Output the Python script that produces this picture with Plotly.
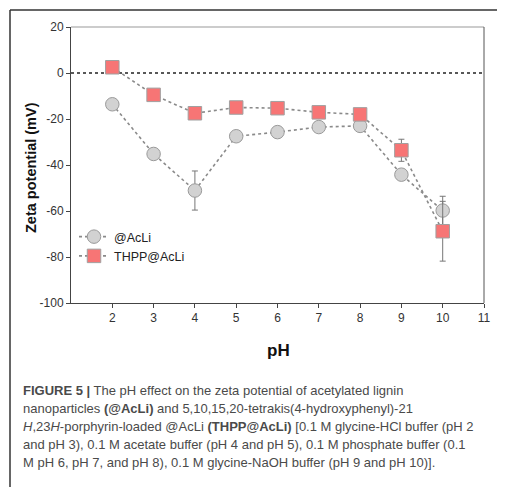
import plotly.graph_objects as go

ph = [2, 3, 4, 5, 6, 7, 8, 9, 10]

acli_zeta = [-13.6, -35.2, -51.1, -27.5, -25.7, -23.5, -23.0, -44.2, -59.8]
acli_err = [1.0, 1.5, 8.5, 1.0, 1.0, 1.0, 1.0, 1.5, 6.2]

thpp_zeta = [2.5, -9.5, -17.5, -15.0, -15.3, -17.1, -18.0, -33.6, -68.8]
thpp_err = [1.0, 1.5, 1.0, 1.0, 1.0, 1.0, 1.0, 4.8, 13.0]

x_ticks = [2, 3, 4, 5, 6, 7, 8, 9, 10, 11]
y_ticks = [-100, -80, -60, -40, -20, 0, 20]
y_ticklabels = ["-100", "-80", "-60", "-40", "-20", "0", "20"]

caption_lines = [
    "<b>FIGURE 5 |</b> The pH effect on the zeta potential of acetylated lignin",
    "nanoparticles <b>(@AcLi)</b> and 5,10,15,20-tetrakis(4-hydroxyphenyl)-21",
    "<i>H</i>,23<i>H</i>-porphyrin-loaded @AcLi <b>(THPP@AcLi)</b> [0.1 M glycine-HCl buffer (pH 2",
    "and pH 3), 0.1 M acetate buffer (pH 4 and pH 5), 0.1 M phosphate buffer (0.1",
    "M pH 6, pH 7, and pH 8), 0.1 M glycine-NaOH buffer (pH 9 and pH 10)].",
]

# the page body has an 8px margin, so work in window pixels and shift
OFF = 8
W, H = 505 - OFF, 487 - OFF
L, R, T, B = 71 - OFF, 484 - OFF, 27 - OFF, 303 - OFF
FONT = "Liberation Sans, Arial"


def px_x(p):
    # window pixel -> paper x
    return (p - OFF - L) / (R - L)


def px_y(p):
    # window pixel -> paper y
    return (B - (p - OFF)) / (B - T)


fig = go.Figure()

fig.add_trace(
    go.Scatter(
        x=ph,
        y=acli_zeta,
        name="@AcLi",
        mode="lines+markers",
        line=dict(color="#8a8a8a", width=1.6, dash="dot"),
        marker=dict(symbol="circle", size=13.5, color="#d2d2d2",
                    line=dict(color="#9a9a9a", width=1)),
        error_y=dict(type="data", array=acli_err, color="#777777",
                     thickness=1, width=3),
    )
)
fig.add_trace(
    go.Scatter(
        x=ph,
        y=thpp_zeta,
        name="THPP@AcLi",
        mode="lines+markers",
        line=dict(color="#8a8a8a", width=1.6, dash="dot"),
        marker=dict(symbol="square", size=13.5, color="#f77575",
                    line=dict(color="#a0a0a0", width=1)),
        error_y=dict(type="data", array=thpp_err, color="#777777",
                     thickness=1, width=3),
    )
)

# zero reference line
fig.add_shape(type="line", xref="paper", yref="y", x0=0, x1=1, y0=0, y1=0,
              line=dict(color="#222222", width=1.5, dash="dot"), layer="below")

# outer figure border (left and top)
fig.add_shape(type="line", xref="paper", yref="paper",
              x0=px_x(10), x1=px_x(10), y0=px_y(495), y1=px_y(10),
              line=dict(color="#333333", width=1.5))
fig.add_shape(type="line", xref="paper", yref="paper",
              x0=px_x(10), x1=px_x(510), y0=px_y(10), y1=px_y(10),
              line=dict(color="#333333", width=1.5))

# axis titles placed by pixel
fig.add_annotation(
    text="<b>Zeta potential (mV)</b>", xref="paper", yref="paper",
    x=px_x(31), y=px_y(168), textangle=-90, showarrow=False,
    xanchor="center", yanchor="middle",
    font=dict(family=FONT, size=14.5, color="#111111"),
)
fig.add_annotation(
    text="<b>pH</b>", xref="paper", yref="paper",
    x=px_x(278), y=px_y(351), showarrow=False,
    xanchor="center", yanchor="middle",
    font=dict(family=FONT, size=17, color="#111111"),
)

# caption
for i, line in enumerate(caption_lines):
    fig.add_annotation(
        text=line, xref="paper", yref="paper",
        x=px_x(21), y=px_y(390 + 18 * i),
        xanchor="left", yanchor="middle", showarrow=False, align="left",
        font=dict(family=FONT, size=13, color="#4a4a4a"),
    )

fig.update_xaxes(
    range=[1, 11],
    tickvals=x_ticks,
    ticks="outside", ticklen=4, tickcolor="#444444",
    showline=True, linecolor="#444444", linewidth=1,
    showgrid=False, zeroline=False, automargin=False,
    tickfont=dict(family=FONT, size=12, color="#333333"),
)
fig.update_yaxes(
    range=[-100, 20],
    tickvals=y_ticks,
    ticktext=y_ticklabels,
    ticks="outside", ticklen=4, tickcolor="#444444",
    showline=True, linecolor="#444444", linewidth=1,
    showgrid=False, zeroline=False, automargin=False,
    tickfont=dict(family=FONT, size=12, color="#333333"),
)

# light frame on top and right
fig.add_shape(type="line", xref="paper", yref="paper", x0=0, x1=1, y0=1, y1=1,
              line=dict(color="#999999", width=1))
fig.add_shape(type="line", xref="paper", yref="paper", x0=1, x1=1, y0=0, y1=1,
              line=dict(color="#555555", width=1))

fig.update_layout(
    width=W, height=H,
    margin=dict(l=L, r=W - R, t=T, b=H - B, autoexpand=False),
    paper_bgcolor="white", plot_bgcolor="white",
    font=dict(family=FONT),
    legend=dict(
        x=px_x(74), y=px_y(222), xanchor="left", yanchor="top",
        bgcolor="rgba(0,0,0,0)", tracegroupgap=0, itemwidth=30,
        font=dict(family=FONT, size=12.5, color="#222222"),
    ),
    showlegend=True,
)

fig.write_html("out.html")
